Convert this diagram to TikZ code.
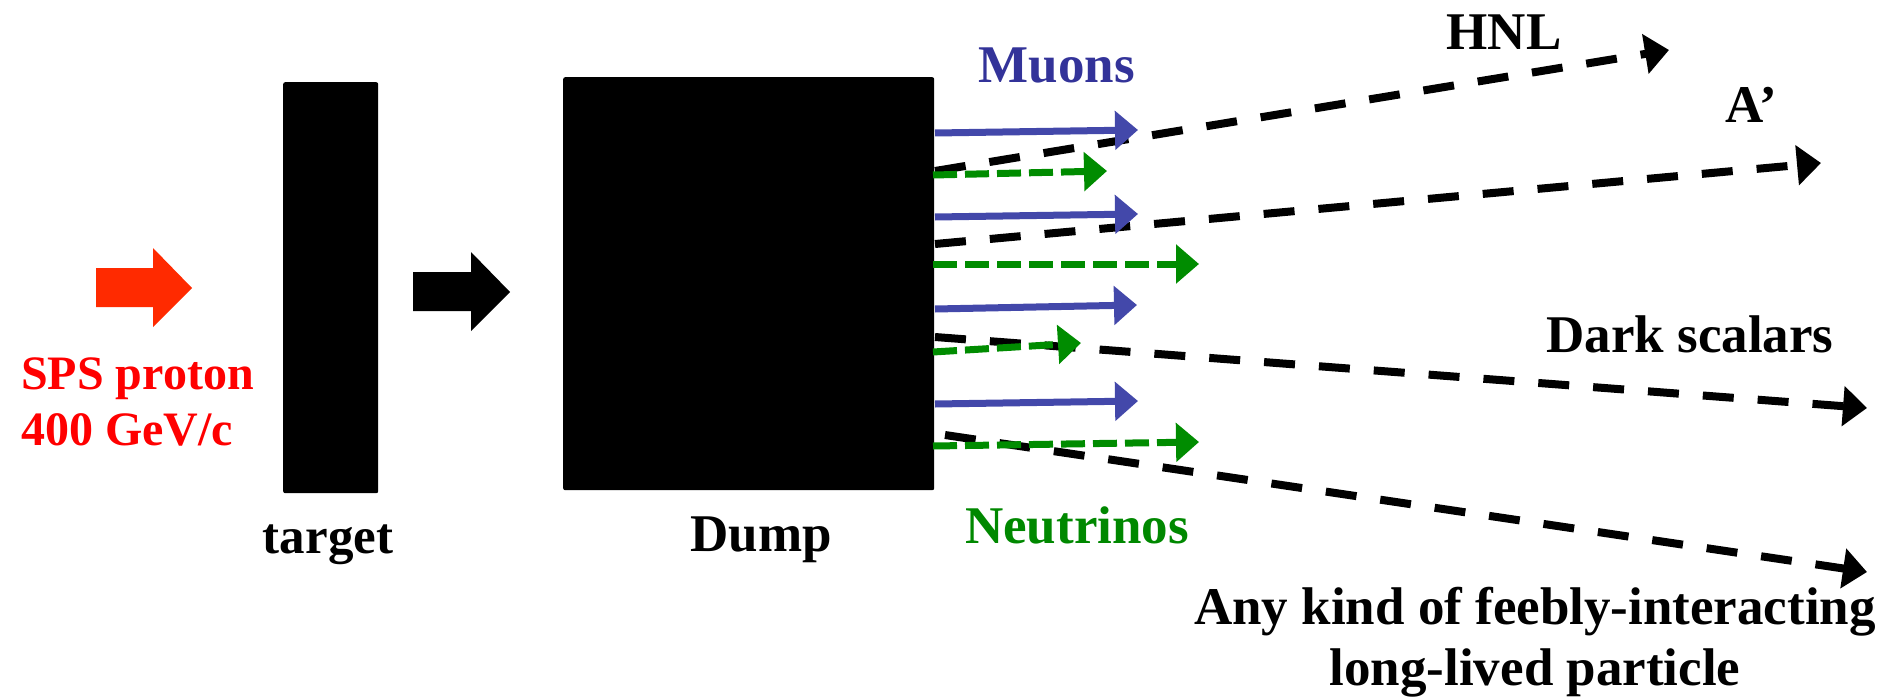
\documentclass[tikz,border=0pt]{standalone}
\usepackage{fontspec}
\setmainfont{Liberation Serif}
\usetikzlibrary{arrows.meta}
\definecolor{beamred}{RGB}{255,42,0}
\definecolor{labelred}{RGB}{255,0,0}
\definecolor{muonblue}{RGB}{67,72,170}
\definecolor{muontext}{RGB}{51,51,153}
\definecolor{nugreen}{RGB}{0,140,0}
\definecolor{nutext}{RGB}{0,136,0}

\begin{document}
\begin{tikzpicture}[x=1pt,y=-1pt,
  lbl/.style={font=\fontsize{53}{64}\selectfont\bfseries, inner sep=0pt, anchor=base},
  block/.style={fill=black, draw=none, inner sep=0pt, rounded corners=2pt, anchor=north west},
  fip/.style={draw=black, line width=8pt, dash pattern=on 31pt off 24pt,
    -{Triangle[length=24pt,width=39pt]}},
  muon/.style={draw=muonblue, line width=7pt, -{Triangle[length=23pt,width=38pt]}},
  nu/.style={draw=nugreen, line width=7pt, dash pattern=on 24pt off 8pt,
    -{Triangle[length=23pt,width=38pt]}},
]
\useasboundingbox (0,0) rectangle (1884,698);

% target and beam dump
\node[block, minimum width=95pt, minimum height=411pt] (target) at (283,82) {};
\node[block, minimum width=371pt, minimum height=413pt] (dump) at (563,77) {};

% incoming proton beam and beam leaving the target
\fill[beamred] (96,268) -- (153,268) -- (153,248) -- (192,288) -- (153,327)
  -- (153,307) -- (96,307) -- cycle;
\fill[black] (413,272) -- (471,272) -- (471,252) -- (510,292) -- (471,331)
  -- (471,311) -- (413,311) -- cycle;

% labels
\node[lbl, anchor=north west, align=left, text=labelred,
  font=\fontsize{48}{56}\selectfont\bfseries] (beam) at (21,358) {SPS proton\\400 GeV/c};
\node[lbl, font=\fontsize{51}{64}\selectfont\bfseries] (targetlbl) at (328,553) {target};
\node[lbl] (dumplbl) at (761,551) {Dump};
\node[lbl, text=muontext] (muons) at (1057,83) {Muons};
\node[lbl, text=nutext] (neutrinos) at (1077,543) {Neutrinos};
\node[lbl] (hnl) at (1504,50) {HNL};
\node[lbl] (aprime) at (1751,123) {A’};
\node[lbl] (scalars) at (1690,352) {Dark scalars};
\node[lbl, anchor=north, align=center, font=\fontsize{53}{61}\selectfont\bfseries]
  (fip) at (1535,587) {Any kind of feebly-interacting\\long-lived particle};

% feebly-interacting particles
\coordinate (hnlS) at (935,171);   \coordinate (hnlE) at (1669,50);
\coordinate (apS)  at (935,244);   \coordinate (apE)  at (1821,163);
\coordinate (dsS)  at (935,337);   \coordinate (dsE)  at (1867,408);
\coordinate (anyS) at (945,435);   \coordinate (anyE) at (1867,572);
\draw[fip] (hnlS) -- (hnlE);
\draw[fip] (apS) -- (apE);
\draw[fip] (dsS) -- (dsE);
\draw[fip] (anyS) -- (anyE);

% muons
\coordinate (mu1S) at (935,133);  \coordinate (mu1E) at (1138,130);
\coordinate (mu2S) at (935,217);  \coordinate (mu2E) at (1138,214);
\coordinate (mu3S) at (935,309);  \coordinate (mu3E) at (1137,305);
\coordinate (mu4S) at (935,404);  \coordinate (mu4E) at (1138,401);
\draw[muon] (mu1S) -- (mu1E);
\draw[muon] (mu2S) -- (mu2E);
\draw[muon] (mu3S) -- (mu3E);
\draw[muon] (mu4S) -- (mu4E);

% neutrinos
\coordinate (nu1S) at (933,175);  \coordinate (nu1E) at (1107,171);
\coordinate (nu2S) at (933,264);  \coordinate (nu2E) at (1199,264);
\coordinate (nu3S) at (933,352);  \coordinate (nu3E) at (1081,343);
\coordinate (nu4S) at (933,446);  \coordinate (nu4E) at (1199,442);
\draw[nu] (nu1S) -- (nu1E);
\draw[nu] (nu2S) -- (nu2E);
\draw[nu] (nu3S) -- (nu3E);
\draw[nu] (nu4S) -- (nu4E);
\end{tikzpicture}
\end{document}
